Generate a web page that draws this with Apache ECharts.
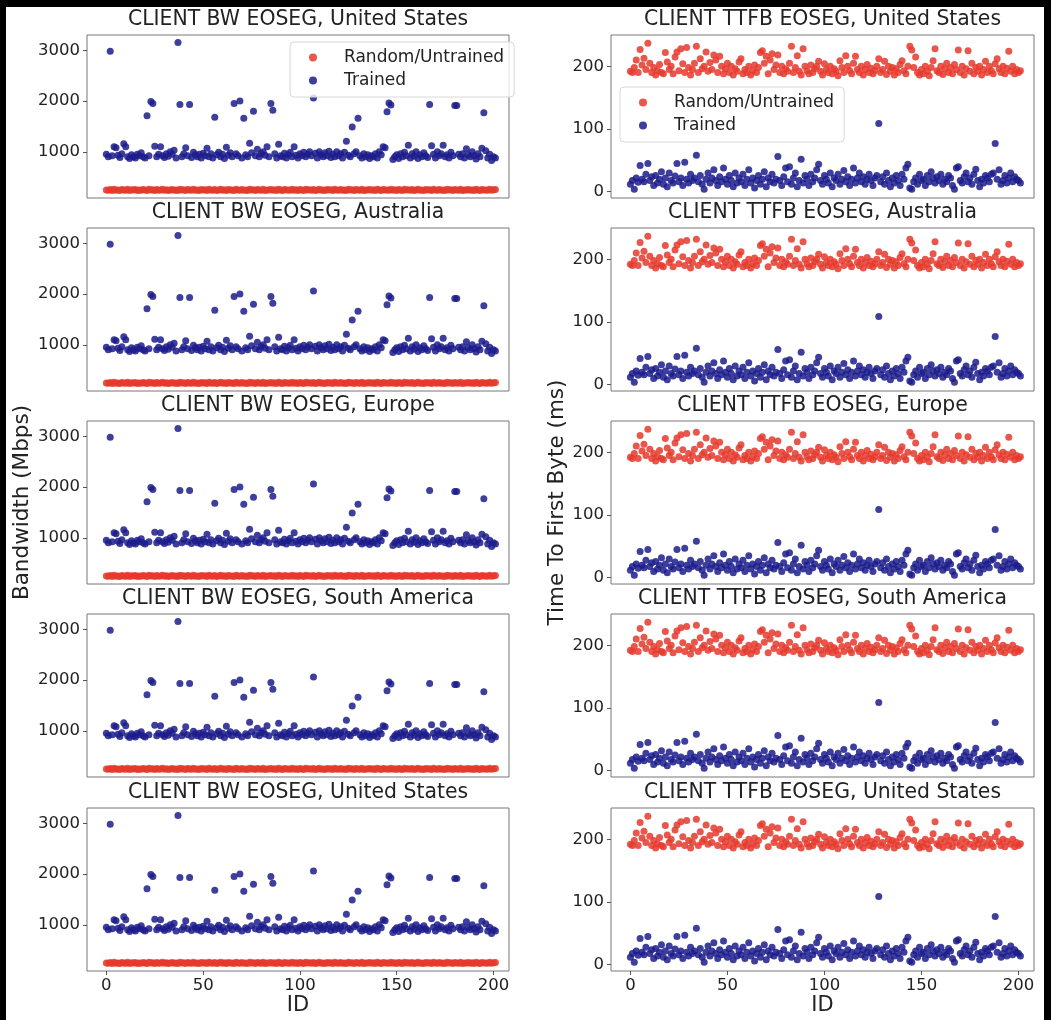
<!DOCTYPE html>
<html>
<head>
<meta charset="utf-8">
<script src="https://cdn.jsdelivr.net/npm/echarts@6/dist/echarts.min.js"></script>
<style>
html, body { margin: 0; padding: 0; background: #000; }
#cc { width: 1051px; height: 1020px; }
</style>
</head>
<body>
<div id="cc"></div>
<script>
// values, one per ID (0..201)
var bwRandom = [
  250,242,255,238,260,245,250,236,258,248,242,262,240,252,246,258,238,250,244,256,
  248,240,260,246,252,238,256,244,250,262,242,254,236,248,258,244,250,240,260,246,
  252,238,256,248,242,262,244,250,236,258,246,252,240,260,248,242,256,238,250,264,
  244,252,240,258,246,250,238,262,248,242,256,244,250,236,260,246,252,240,258,248,
  242,262,238,250,246,256,244,252,240,260,248,238,256,246,250,242,262,244,252,236,
  258,248,240,260,246,252,242,256,238,250,264,244,250,240,258,246,252,238,262,248,
  242,256,244,250,236,260,246,252,240,258,248,242,262,238,250,246,256,244,252,240,
  260,248,238,256,246,250,242,262,244,252,236,258,248,240,260,246,252,242,256,238,
  250,264,244,250,240,258,246,252,238,262,248,242,256,244,250,236,260,246,252,240,
  258,248,242,262,238,250,246,256,244,252,240,260,248,238,256,246,250,242,262,244,
  252,256
];
var bwTrained = [
  950,900,2980,920,1100,1080,930,890,960,1160,1100,900,870,940,900,880,950,920,980,900,
  880,1710,920,1990,1950,1110,900,950,1100,920,890,960,910,1000,950,1030,880,3150,1930,900,
  960,1080,920,1930,890,990,940,900,950,880,970,920,1070,900,960,880,1680,940,990,900,
  950,870,1090,930,980,900,1950,960,920,2000,880,1660,940,900,1170,980,1800,920,1050,900,
  960,1000,930,1100,900,1950,1820,960,880,1150,920,900,970,880,940,990,900,1100,930,880,
  960,920,990,900,950,1000,920,2060,970,880,1000,940,900,980,920,1010,890,950,900,1000,
  920,960,880,990,1210,930,900,1490,960,1000,1660,920,880,960,900,940,870,920,900,960,
  880,1000,940,1100,1080,1790,1960,1920,850,900,940,870,960,900,990,920,1130,880,960,910,
  1000,870,940,900,980,920,890,1930,1120,950,880,1000,920,960,1130,900,940,880,990,920,
  1910,1910,950,900,960,880,1060,940,900,1000,920,860,960,900,1070,1770,1020,880,950,830,
  900,880
];
var ttfbRandom = [
  192,190,198,210,190,227,202,213,195,237,205,190,198,186,193,203,190,188,222,207,
  195,200,188,215,223,193,228,204,190,230,198,186,195,205,232,190,212,196,200,223,
  192,206,195,218,210,190,216,200,188,196,205,190,200,186,196,192,207,212,188,195,
  190,200,186,193,202,190,198,222,225,205,216,188,210,220,195,202,218,190,200,188,
  196,192,205,232,190,198,217,192,186,228,200,193,188,202,190,196,200,208,192,186,
  204,195,190,200,188,196,192,185,209,198,190,217,200,193,188,205,216,195,190,200,
  186,195,203,190,197,188,193,200,212,190,195,208,187,200,192,198,186,196,190,203,
  209,193,188,200,232,226,198,215,190,186,195,188,200,192,185,198,209,228,193,190,
  200,187,196,205,190,198,188,203,195,226,190,200,186,196,225,192,205,188,198,192,
  200,186,195,208,190,200,193,188,204,212,196,190,200,188,197,224,192,200,188,195,
  190,193
];
var ttfbTrained = [
  12,18,4,22,15,42,20,16,28,45,18,24,10,26,14,20,32,12,22,8,
  30,18,14,25,45,16,22,10,47,20,14,28,18,22,58,16,26,12,4,20,
  30,14,22,35,18,10,24,16,38,20,12,26,18,8,30,14,22,16,28,10,
  20,35,14,22,6,18,26,12,20,32,8,22,16,28,14,20,56,18,10,24,
  38,16,40,12,22,30,8,18,52,14,26,20,10,28,16,22,35,44,18,12,
  26,20,14,30,8,22,18,28,12,20,34,16,24,10,20,38,14,22,30,16,
  24,12,20,28,18,10,22,26,109,16,24,12,30,18,8,22,14,26,18,10,
  28,20,38,44,6,4,16,22,12,28,18,20,10,26,16,32,22,14,24,18,
  28,12,20,16,26,22,10,4,38,40,18,14,24,30,16,22,12,28,36,18,
  8,20,14,26,22,16,28,30,77,20,35,12,18,26,14,22,30,16,24,20,
  18,14
];

var regions = ['United States', 'Australia', 'Europe', 'South America', 'United States'];
var idTicks = [0, 50, 100, 150, 200];
var bwTicks = [1000, 2000, 3000];
var ttfbTicks = [0, 100, 200];
var seriesNames = ['Random/Untrained', 'Trained'];

var FONT = 'DejaVu Sans';
var RED = '#e5392d';
var BLUE = '#1c1c8c';

var chart = echarts.init(document.getElementById('cc'));

var colLeft = [87, 611];
var colWidth = [422, 423];
var rowTop = [35, 228, 421, 614, 808];
var rowH = 163;

function pairs(arr) {
  return arr.map(function (v, i) { return [i, v]; });
}
function plain(v) { return String(v); }

var grids = [], xAxes = [], yAxes = [], series = [], titles = [];

for (var r = 0; r < 5; r++) {
  for (var c = 0; c < 2; c++) {
    var gi = grids.length;
    var bottom = r === 4;
    var isBw = c === 0;
    grids.push({
      left: colLeft[c], top: rowTop[r], width: colWidth[c], height: rowH,
      show: true, borderColor: '#777', borderWidth: 1, backgroundColor: 'transparent'
    });
    titles.push({
      text: 'CLIENT ' + (isBw ? 'BW' : 'TTFB') + ' EOSEG, ' + regions[r],
      left: colLeft[c] + colWidth[c] / 2,
      textAlign: 'center',
      top: rowTop[r] - 25,
      padding: 0,
      textStyle: { fontFamily: FONT, fontSize: 20.4, fontWeight: 'normal', color: '#222', lineHeight: 20 }
    });
    xAxes.push({
      gridIndex: gi, type: 'value', min: -10, max: 208,
      splitLine: { show: false },
      axisLine: { show: false, onZero: false },
      axisTick: { show: bottom, length: 4, customValues: idTicks, lineStyle: { color: '#555' } },
      axisLabel: { show: bottom, customValues: idTicks, formatter: plain, fontFamily: FONT, fontSize: 16.5, color: '#222', margin: 6 },
      name: bottom ? 'ID' : '',
      nameLocation: 'middle', nameGap: 22,
      nameTextStyle: { fontFamily: FONT, fontSize: 21, color: '#222' }
    });
    yAxes.push({
      gridIndex: gi, type: 'value',
      min: isBw ? 90 : -10, max: isBw ? 3300 : 250,
      splitLine: { show: false },
      axisLine: { show: false, onZero: false },
      axisTick: { show: true, length: 4, customValues: isBw ? bwTicks : ttfbTicks, lineStyle: { color: '#555' } },
      axisLabel: { customValues: isBw ? bwTicks : ttfbTicks, formatter: plain, fontFamily: FONT, fontSize: 16.5, color: '#222', margin: 7 },
      name: r === 2 ? (isBw ? 'Bandwidth (Mbps)' : 'Time To First Byte (ms)') : '',
      nameLocation: 'middle', nameGap: isBw ? 54 : 43,
      nameTextStyle: { fontFamily: FONT, fontSize: 21.5, color: '#222' }
    });
    series.push({
      name: seriesNames[0], type: 'scatter', xAxisIndex: gi, yAxisIndex: gi,
      data: pairs(isBw ? bwRandom : ttfbRandom),
      symbolSize: 7, itemStyle: { color: RED, opacity: 0.85 }
    });
    series.push({
      name: seriesNames[1], type: 'scatter', xAxisIndex: gi, yAxisIndex: gi,
      data: pairs(isBw ? bwTrained : ttfbTrained),
      symbolSize: 7, itemStyle: { color: BLUE, opacity: 0.85 }
    });
  }
}

var legendBase = {
  data: seriesNames,
  orient: 'vertical',
  icon: 'circle',
  itemWidth: 8, itemHeight: 8,
  itemGap: 6,
  padding: [7, 10, 8, 19],
  backgroundColor: 'rgba(255,255,255,0.8)',
  borderColor: '#d8d8d8', borderWidth: 1, borderRadius: 4,
  textStyle: { fontFamily: FONT, fontSize: 17, color: '#222', padding: [0, 0, 0, 22] }
};

var option = {
  animation: false,
  backgroundColor: '#000',
  graphic: [{
    type: 'rect', left: 6, top: 7, z: -100, silent: true,
    shape: { width: 1038, height: 1013 },
    style: { fill: '#fff' }
  }],
  title: titles,
  legend: [
    Object.assign({}, legendBase, { left: 290, top: 42 }),
    Object.assign({}, legendBase, { left: 620, top: 87 })
  ],
  grid: grids,
  xAxis: xAxes,
  yAxis: yAxes,
  series: series
};

chart.setOption(option);
</script>
</body>
</html>
